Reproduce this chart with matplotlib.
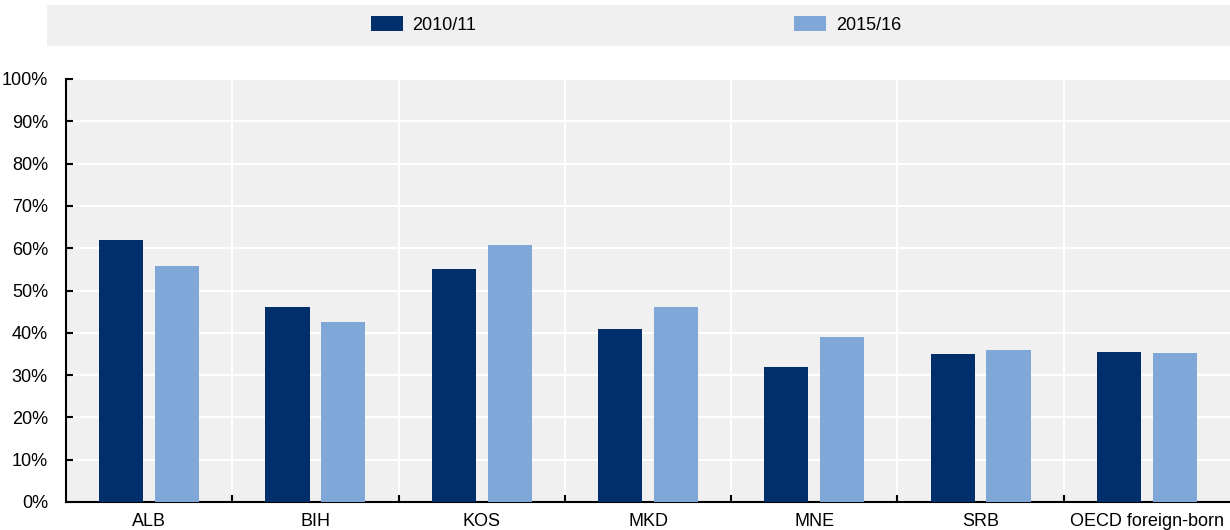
import matplotlib
matplotlib.use('Agg')
import matplotlib.pyplot as plt
from matplotlib.patches import Rectangle
import numpy as np

plt.rcParams['font.family'] = ['Liberation Sans Narrow', 'Liberation Sans', 'DejaVu Sans']

categories = ['ALB', 'BIH', 'KOS', 'MKD', 'MNE', 'SRB', 'OECD foreign-born']
values_2010 = [62.0, 46.0, 55.0, 41.0, 32.0, 35.0, 35.4]
values_2015 = [55.7, 42.6, 60.8, 46.0, 39.1, 36.0, 35.2]
series_labels = ['2010/11', '2015/16']
ytick_values = list(range(0, 101, 10))

DARK = '#002F6C'
LIGHT = '#7FA8D9'
BG = '#F0F0F0'

fig = plt.figure(figsize=(12.3, 5.3), dpi=100)
ax = fig.add_axes([66 / 1230, 28 / 530, 1 - 66 / 1230, (502 - 79) / 530])

x = np.arange(len(categories))
width = 0.266
offset = 0.168
b1 = ax.bar(x - offset, values_2010, width, color=DARK, label=series_labels[0], zorder=3)
b2 = ax.bar(x + offset, values_2015, width, color=LIGHT, label=series_labels[1], zorder=3)

ax.set_facecolor(BG)
ax.set_xlim(-0.5, len(categories) - 0.5)
ax.set_ylim(0, 100)

ax.set_yticks(ytick_values)
ax.set_yticklabels([f'{v}%' for v in ytick_values])
ax.set_xticks(x)
ax.set_xticklabels(categories)
ax.set_xticks(np.arange(len(categories) - 1) + 0.5, minor=True)

ax.tick_params(axis='y', direction='in', length=5, width=1.5, pad=13, labelsize=13)
ax.tick_params(axis='x', which='major', length=0, pad=8, labelsize=13)
ax.tick_params(axis='x', which='minor', direction='in', length=5, width=1.5)

ax.grid(axis='y', color='white', linewidth=1.5, zorder=1)
ax.grid(axis='x', which='minor', color='white', linewidth=1.5, zorder=1)
ax.set_axisbelow(True)

for side in ['top', 'right']:
    ax.spines[side].set_visible(False)
for side in ['left', 'bottom']:
    ax.spines[side].set_linewidth(1.5)
    ax.spines[side].set_color('black')

# legend band across the top
fig.patches.append(Rectangle((47 / 1230, (530 - 45.7) / 530), 1 - 47 / 1230, 40.7 / 530,
                             transform=fig.transFigure, facecolor=BG, edgecolor='none', zorder=0))
fig.legend(handles=[b1, b2], labels=series_labels, loc='center left',
           bbox_to_anchor=(371 / 1230, 1 - 25.3 / 530), ncol=2, frameon=False,
           borderpad=0, borderaxespad=0, fontsize=13, handlelength=1.75,
           handleheight=0.9, handletextpad=0.55, columnspacing=17.6)

fig.savefig('out.png', dpi=100)
